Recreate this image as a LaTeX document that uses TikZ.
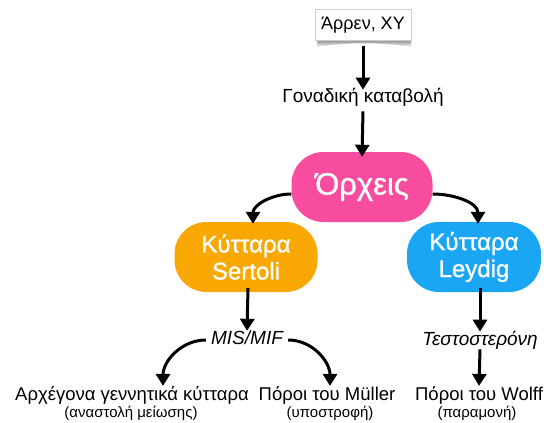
\documentclass[tikz,border=0pt]{standalone}
\usepackage{fontspec}
\setmainfont{Liberation Sans}
\newfontfamily\pillfont[FakeBold=1]{Liberation Sans}
\usetikzlibrary{arrows.meta}
\definecolor{pinkpill}{HTML}{F84C9E}
\definecolor{orangepill}{HTML}{F9A803}
\definecolor{bluepill}{HTML}{1AA6F2}
\tikzset{
  pill/.style={rectangle, rounded corners=32pt, minimum height=70pt, text=white,
    align=center, font=\pillfont\fontsize{24}{27}\selectfont, inner sep=0pt},
  label/.style={font=\fontsize{18.5}{22}\selectfont, inner sep=1pt},
  sublabel/.style={font=\fontsize{15}{17}\selectfont, inner sep=1pt},
  flow/.style={line width=3pt, -{Triangle[width=14pt,length=12pt]}},
}
\begin{document}
\begin{tikzpicture}[x=1pt, y=-1pt]
\useasboundingbox (0,0) rectangle (544,423);

% top box with a curled-paper shadow beneath it
\shade[top color=black!45, bottom color=white]
  (317,40) -- (411,40) -- (411,47) .. controls (380,42) and (348,42) .. (317,47) -- cycle;
\node[draw=black!20, line width=0.4pt, fill=white, minimum width=96pt, minimum height=31pt,
  inner sep=0pt, font=\fontsize{18}{21}\selectfont] (sex) at (363,25) {Άρρεν, ΧΥ};

\node[label, font=\fontsize{19}{22}\selectfont] (gon) at (363,97) {Γοναδική καταβολή};

\node[pill, fill=pinkpill, minimum width=141pt, font=\pillfont\fontsize{31}{34}\selectfont] (test) at (362,187) {Όρχεις};
\node[pill, fill=orangepill, minimum width=143pt] (sert) at (246,257) {Κύτταρα\\Sertoli};
\node[pill, fill=bluepill, minimum width=134pt] (leyd) at (474,257) {Κύτταρα\\Leydig};

\node[label, font=\itshape\fontsize{19}{22}\selectfont] (mis) at (247,338) {MIS/MIF};
\node[label, font=\itshape\fontsize{19}{22}\selectfont] (testo) at (480,340) {Τεστοστερόνη};

\node[label] (germ) at (132,395) {Αρχέγονα γεννητικά κύτταρα};
\node[sublabel] (germs) at (131,413) {(αναστολή μείωσης)};
\node[label] (mull) at (327,395) {Πόροι του Müller};
\node[sublabel] (mulls) at (330,413) {(υποστροφή)};
\node[label] (wolf) at (479,395) {Πόροι του Wolff};
\node[sublabel] (wolfs) at (477,413) {(παραμονή)};

% connectors
\draw[flow] (sex.south) ++(0,5) -- ([yshift=-3pt]gon.north);
\draw[flow] (gon.south) ++(0,4) -- ([yshift=-5pt]test.north);
\draw[flow] ([yshift=-7pt]test.west) to[out=180, in=90] ([xshift=7pt,yshift=-2pt]sert.north);
\draw[flow] ([yshift=-7pt]test.east) to[out=0, in=90] ([xshift=4pt,yshift=-2pt]leyd.north);
\draw[flow] ([xshift=2pt,yshift=4pt]sert.south) -- ([yshift=-1pt]mis.north);
\draw[flow] ([xshift=6pt,yshift=4pt]leyd.south) -- ([yshift=-2pt]testo.north);
\draw[flow] ([xshift=-4pt,yshift=-2pt]mis.west) to[out=180, in=90] ([xshift=31pt,yshift=-1pt]germ.north);
\draw[flow] ([xshift=4pt,yshift=-2pt]mis.east) to[out=0, in=90] ([xshift=3pt,yshift=-1pt]mull.north);
\draw[flow] ([yshift=1pt]testo.south) -- ([yshift=-1pt]wolf.north);
\end{tikzpicture}
\end{document}
